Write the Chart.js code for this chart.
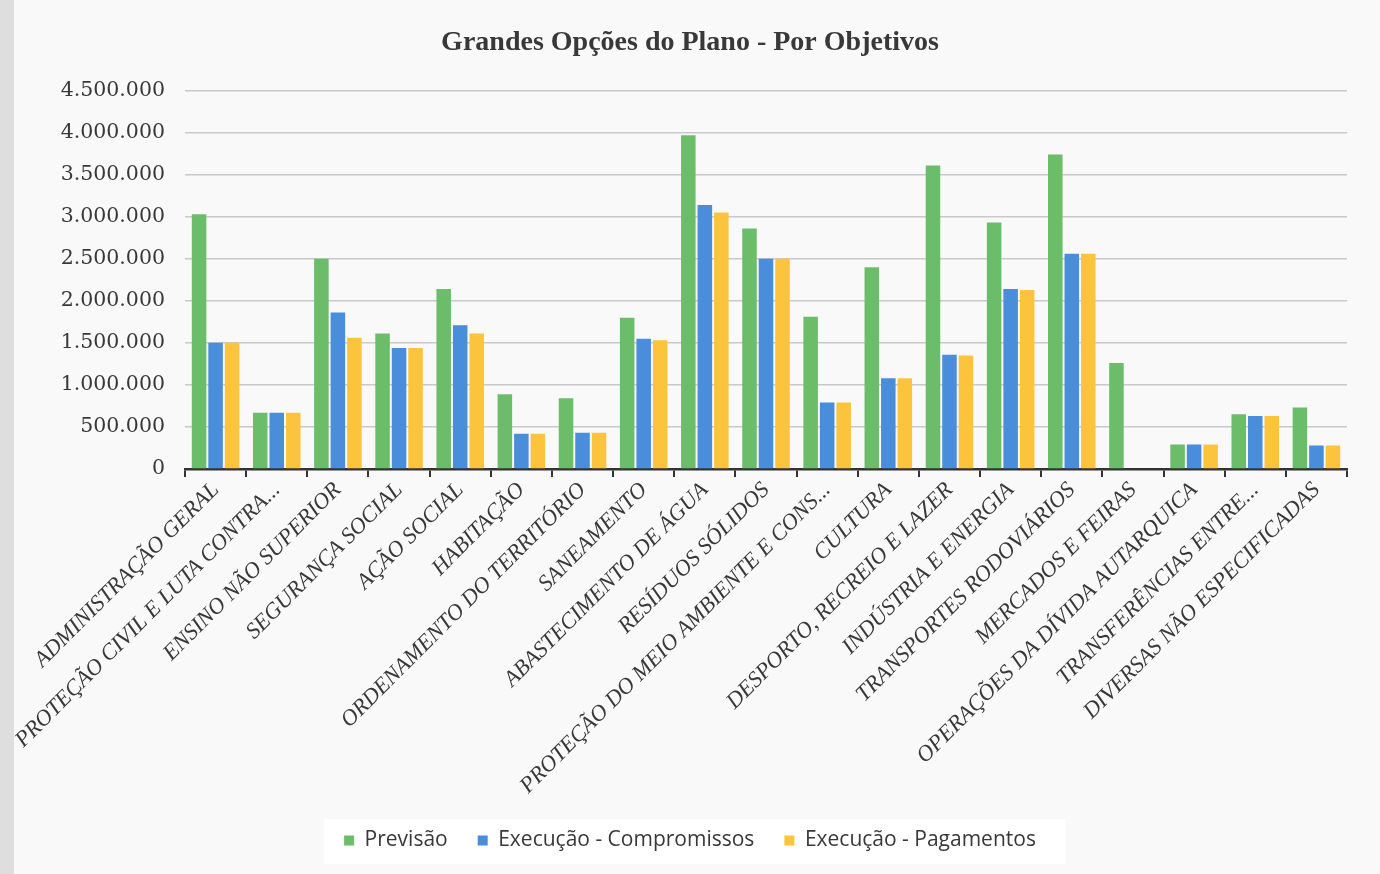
<!DOCTYPE html>
<html>
<head>
<meta charset="utf-8">
<script src="https://cdn.jsdelivr.net/npm/chart.js@4.4.0/dist/chart.umd.min.js"></script>
<style>
  html, body { margin: 0; padding: 0; background: #f7f7f7; }
  #wrap { width: 1380px; height: 874px; }
</style>
</head>
<body>
<div id="wrap"><canvas id="chartGOP"></canvas></div>
<script>
// Objetivos (eixo X)
const categorias = [
    'ADMINISTRAÇÃO GERAL',
    'PROTEÇÃO CIVIL E LUTA CONTRA...',
    'ENSINO NÃO SUPERIOR',
    'SEGURANÇA SOCIAL',
    'AÇÃO SOCIAL',
    'HABITAÇÃO',
    'ORDENAMENTO DO TERRITÓRIO',
    'SANEAMENTO',
    'ABASTECIMENTO DE ÁGUA',
    'RESÍDUOS SÓLIDOS',
    'PROTEÇÃO DO MEIO AMBIENTE E CONS...',
    'CULTURA',
    'DESPORTO, RECREIO E LAZER',
    'INDÚSTRIA E ENERGIA',
    'TRANSPORTES RODOVIÁRIOS',
    'MERCADOS E FEIRAS',
    'OPERAÇÕES DA DÍVIDA AUTARQUICA',
    'TRANSFERÊNCIAS ENTRE...',
    'DIVERSAS NÃO ESPECIFICADAS'
];

// Valores (euros)
const previsao     = [3030000, 670000, 2500000, 1610000, 2140000, 890000, 840000, 1800000, 3970000, 2860000, 1810000, 2400000, 3610000, 2930000, 3740000, 1260000, 290000, 650000, 730000];
const compromissos = [1500000, 670000, 1860000, 1440000, 1710000, 420000, 430000, 1550000, 3140000, 2500000, 790000, 1080000, 1360000, 2140000, 2560000, 0, 290000, 630000, 280000];
const pagamentos   = [1500000, 670000, 1560000, 1440000, 1610000, 420000, 430000, 1530000, 3050000, 2500000, 790000, 1080000, 1350000, 2130000, 2560000, 0, 290000, 630000, 280000];

// Eixo Y
const yMin = 0;
const yMax = 4500000;
const yStep = 500000;

const C = {
    verde: '#6cbd6a',
    azul: '#4a8edb',
    amarelo: '#fcc43c',
    texto: '#383838',
    grelha: '#c9c9c9',
    eixo: '#333333'
};

const fmt = v => String(v).replace(/\B(?=(\d{3})+(?!\d))/g, '.');

// fundo "digitalizado" + caixa branca da legenda
const fundo = {
    id: 'fundo',
    beforeDraw(chart) {
        const ctx = chart.ctx;
        ctx.save();
        ctx.fillStyle = '#f9f9f9';
        ctx.fillRect(0, 0, chart.width, chart.height);
        ctx.fillStyle = '#dedede';
        ctx.fillRect(0, 0, 14, chart.height);
        const boxes = chart.legend.legendHitBoxes;
        if (boxes && boxes.length) {
            const a = boxes[0], b = boxes[boxes.length - 1];
            ctx.fillStyle = '#ffffff';
            ctx.fillRect(a.left - 20, a.top - 11, b.left + b.width - a.left + 50, a.height + 24);
        }
        ctx.restore();
    }
};

const serie = (label, data, cor) => ({
    label, data,
    backgroundColor: cor,
    borderWidth: 0,
    categoryPercentage: 0.81,
    barPercentage: 0.88
});

new Chart(document.getElementById('chartGOP'), {
    type: 'bar',
    data: {
        labels: categorias,
        datasets: [
            serie('Previsão', previsao, C.verde),
            serie('Execução - Compromissos', compromissos, C.azul),
            serie('Execução - Pagamentos', pagamentos, C.amarelo)
        ]
    },
    plugins: [fundo],
    options: {
        responsive: true,
        maintainAspectRatio: false,
        animation: false,
        layout: {padding: {left: 33, right: 33, top: 0, bottom: 13}},
        plugins: {
            title: {
                display: true,
                text: 'Grandes Opções do Plano - Por Objetivos',
                color: C.texto,
                font: {family: 'Liberation Serif', size: 28, weight: 'bold'},
                padding: {top: 26, bottom: 31}
            },
            legend: {
                position: 'bottom',
                labels: {
                    boxWidth: 10,
                    boxHeight: 10,
                    padding: 30,
                    color: C.texto,
                    font: {family: 'Open Sans', size: 21}
                }
            },
            tooltip: {enabled: false}
        },
        scales: {
            x: {
                grid: {offset: true, drawOnChartArea: false, tickLength: 8, color: C.eixo, lineWidth: 2},
                border: {color: C.eixo, width: 2.5},
                ticks: {
                    autoSkip: false,
                    minRotation: 45,
                    maxRotation: 45,
                    padding: 0,
                    color: C.texto,
                    font: {family: 'Liberation Serif', style: 'italic', size: 22.5}
                },
                afterFit: s => { s.height = 331; }
            },
            y: {
                min: yMin,
                max: yMax,
                border: {display: false},
                grid: {color: C.grelha, lineWidth: 1.5, drawTicks: false},
                ticks: {
                    stepSize: yStep,
                    padding: 20,
                    color: C.texto,
                    font: {family: 'DejaVu Serif', size: 20.5},
                    callback: v => fmt(v)
                },
                afterFit: s => { s.width = 152; }
            }
        }
    }
});
</script>
</body>
</html>
